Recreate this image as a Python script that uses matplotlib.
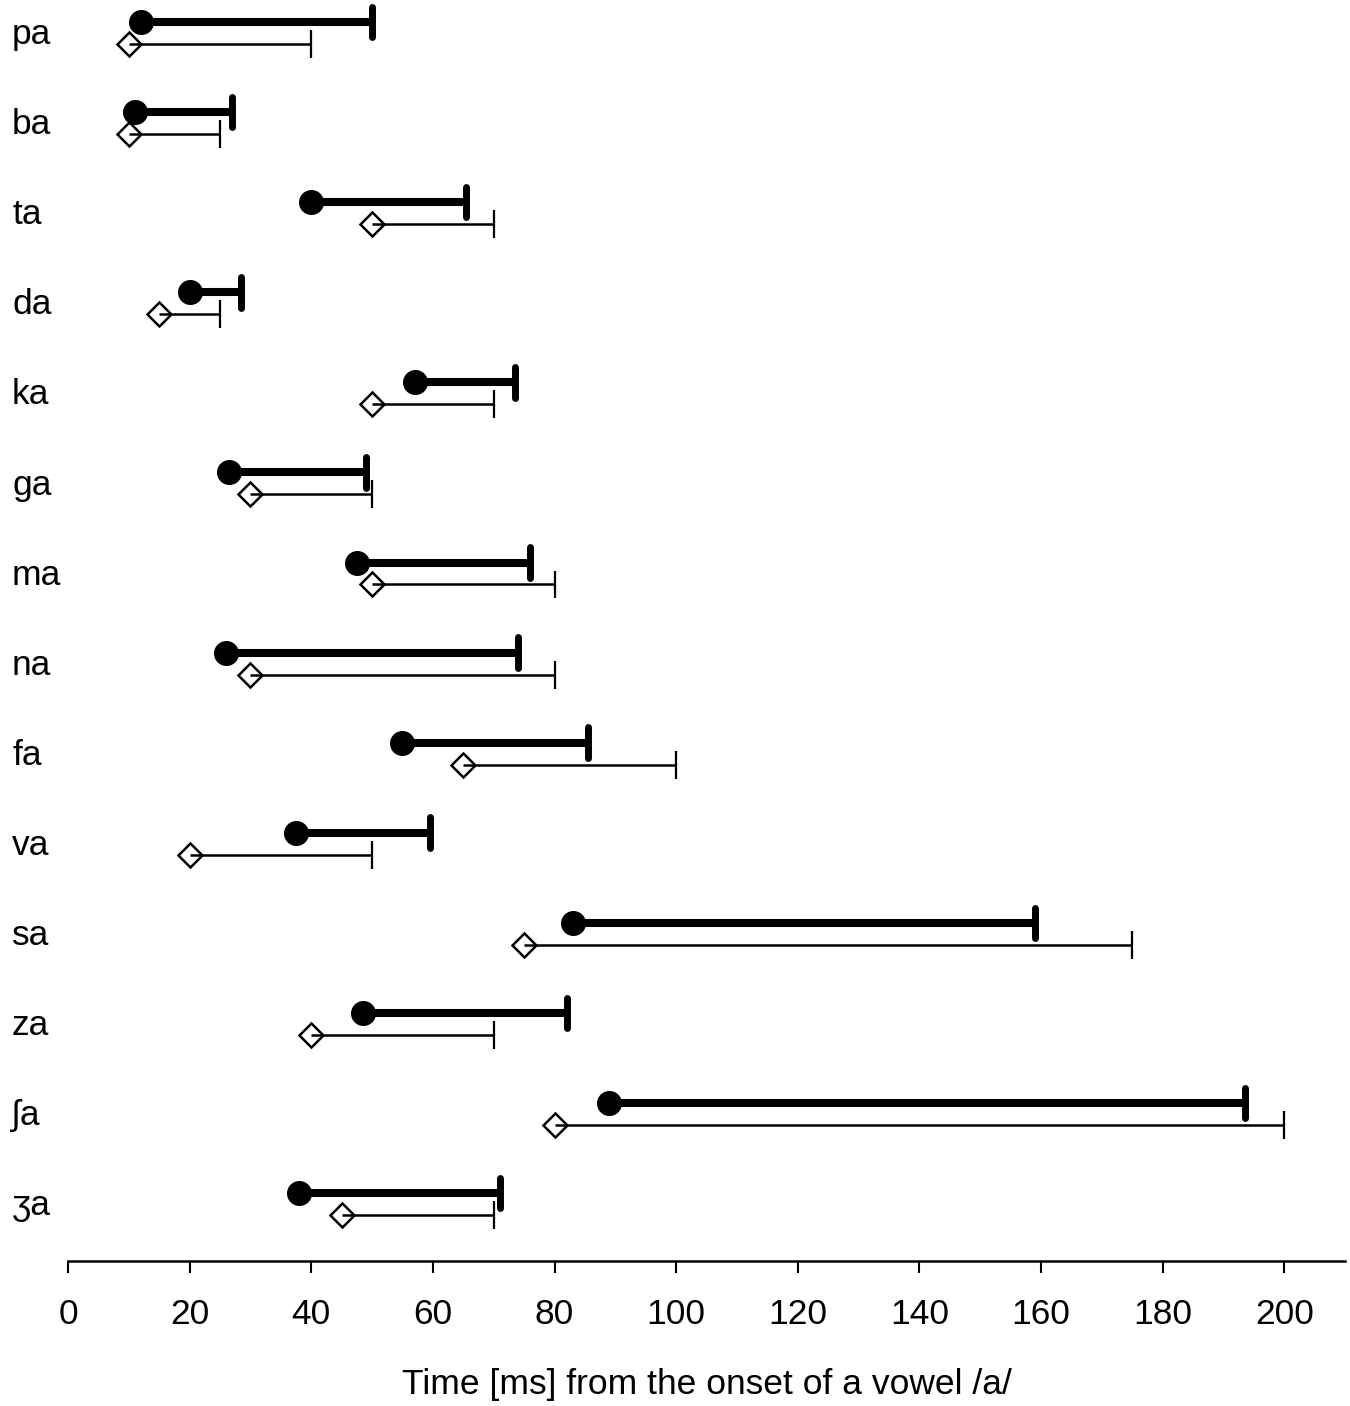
import numpy as np
import matplotlib
matplotlib.use("Agg")
import matplotlib.pyplot as plt

plt.rcParams['font.family'] = ['Liberation Sans', 'DejaVu Sans']

syllables = ["pa", "ba", "ta", "da", "ka", "ga", "ma", "na", "fa", "va", "sa", "za", "ʃa", "ʒa"]
# filled circles (thick bars): start / end
circ_start = [12, 11, 40, 20, 57, 26.5, 47.5, 26, 55, 37.5, 83, 48.5, 89, 38]
circ_end = [50, 27, 65.5, 28.5, 73.5, 49, 76, 74, 85.5, 59.5, 159, 82, 193.5, 71]
# open diamonds (thin bars): start / end
diam_start = [10, 10, 50, 15, 50, 30, 50, 30, 65, 20, 75, 40, 80, 45]
diam_end = [40, 25, 70, 25, 70, 50, 80, 80, 100, 50, 175, 70, 200, 70]

xticks = list(range(0, 201, 20))

fig = plt.figure(figsize=(13.5, 14.06), dpi=100)
ax = fig.add_axes([0.0504, 0.1031, 0.9459, 0.8969])

n = len(syllables)
yc = np.arange(n)
yd = yc + 0.244

# thick bars with circles
ax.hlines(yc, circ_start, circ_end, color='black', lw=5.8, zorder=3)
ax.vlines(circ_end, yc - 0.17, yc + 0.17, color='black', lw=5.0, zorder=3,
          capstyle='round')
ax.plot(circ_start, yc, 'o', color='black', ms=17, zorder=4, clip_on=False)

# thin bars with diamonds
ax.plot(diam_start, yd, 'D', mfc='white', mec='black', mew=1.8, ms=12.5,
        zorder=2, clip_on=False)
ax.hlines(yd, diam_start, diam_end, color='black', lw=1.8, zorder=3)
ax.vlines(diam_end, yd - 0.155, yd + 0.155, color='black', lw=1.6, zorder=3)

for i, s in enumerate(syllables):
    ax.text(-9.2, yc[i] + 0.14, s, fontsize=25.5, ha='left', va='center',
            clip_on=False)

ax.set_xlim(0, 210)
ax.set_ylim(13.754, -0.244)
for sp in ['left', 'top', 'right']:
    ax.spines[sp].set_visible(False)
ax.spines['bottom'].set_linewidth(1.8)
ax.set_yticks([])
ax.set_xticks(xticks)
ax.tick_params(axis='x', length=8.5, width=1.5, pad=18, labelsize=25.5)
ax.set_xlabel("Time [ms] from the onset of a vowel /a/", fontsize=25.5, labelpad=27)

fig.savefig("out.png", dpi=100)
